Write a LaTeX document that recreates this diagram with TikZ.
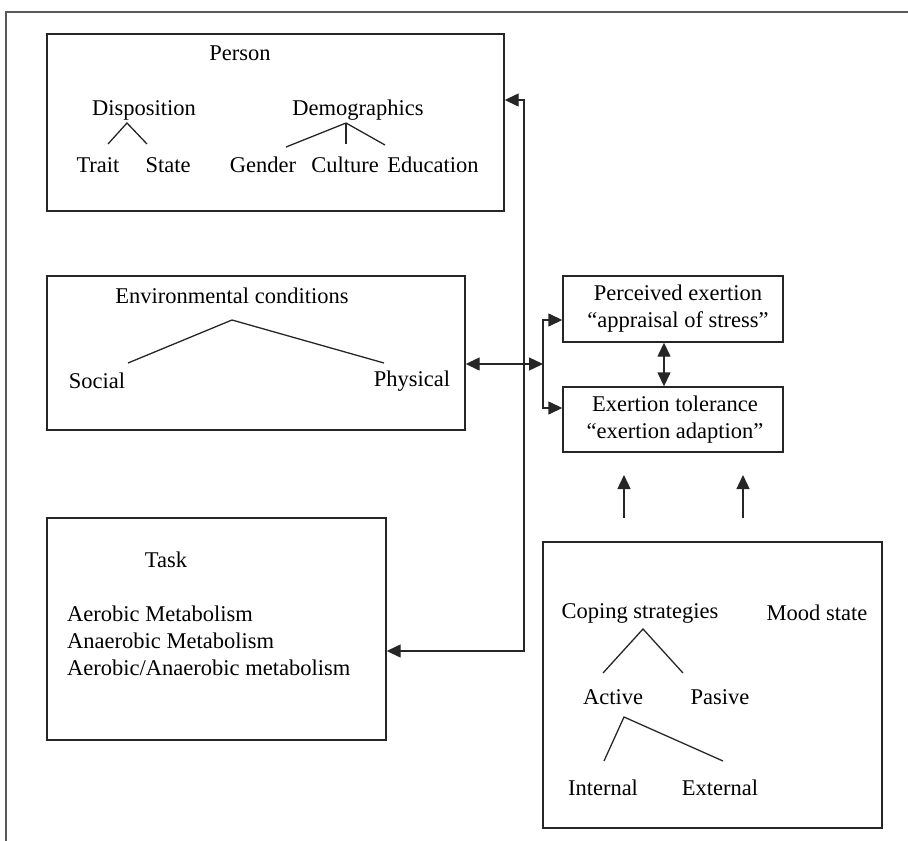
\documentclass[tikz,border=0pt]{standalone}
\usepackage{fontspec}
\setmainfont{Liberation Serif}
\usetikzlibrary{arrows.meta}
\begin{document}
\begin{tikzpicture}[x=1pt,y=-1pt,
  every node/.style={font=\fontsize{22.5}{27}\selectfont, inner sep=0pt},
  panel/.style={draw=black!85, line width=1.4pt},
  frame/.style={draw=black!65, line width=1.4pt},
  branch/.style={draw=black!85, line width=1.3pt},
  tip/.tip={Triangle[length=14pt,width=13pt]},
  link/.style={draw=black!85, line width=1.4pt, -tip},
  dlink/.style={draw=black!85, line width=1.4pt, tip-tip},
]
\useasboundingbox (0,0) rectangle (908,841);

% page frame (top and left edges only)
\draw[frame] (908,12) -- (6,12) -- (6,841);

% ---------- panels ----------
\node[panel, minimum width=457pt, minimum height=177pt] (person) at (275.5,122.5) {};
\node[panel, minimum width=418pt, minimum height=154pt] (env)    at (256,353) {};
\node[panel, minimum width=339pt, minimum height=222pt] (task)   at (216.5,629) {};
\node[panel, minimum width=220pt, minimum height=66pt]  (perc)   at (673,309) {};
\node[panel, minimum width=220pt, minimum height=65pt]  (exer)   at (673,419.5) {};
\node[panel, minimum width=339pt, minimum height=286pt] (coping) at (712.5,685) {};

% ---------- Person ----------
\node (personT) at (240,53) {Person};
\node (disp)  at (144,110) {Disposition};
\node (demo)  at (358,110) {Demographics};
\node (trait) at (98,165)  {Trait};
\node (state) at (168,165) {State};
\node (gender) at (263,165) {Gender};
\node (culture) at (345,165) {Culture};
\node (educ) at (433,165) {Education};
\coordinate (dispA) at (127,123);
\coordinate (demoA) at (346,123);
\draw[branch] (108,144) -- (dispA) -- (147,144);
\draw[branch] (286,147) -- (demoA) -- (385,145);
\draw[branch] (demoA) -- (346,144);

% ---------- Environmental conditions ----------
\node (envT) at (232,296) {Environmental conditions};
\node (social) at (97,381) {Social};
\node (phys) at (412,381) {Physical};
\coordinate (envA) at (232,320);
\draw[branch] (128,363) -- (envA) -- (384,363);

% ---------- Task ----------
\node (taskT) at (166,560) {Task};
\node[align=left, anchor=west] (tasklist) at (67,641)
  {Aerobic Metabolism\\Anaerobic Metabolism\\Aerobic/Anaerobic metabolism};

% ---------- Perceived exertion / tolerance ----------
\node[align=center] (percT) at (678,309) {Perceived exertion\\“appraisal of stress”};
\node[align=center] (exerT) at (675,420) {Exertion tolerance\\“exertion adaption”};

% ---------- Coping / mood ----------
\node (copeT) at (640,613) {Coping strategies};
\node (mood) at (817,613) {Mood state};
\node (active) at (613,697) {Active};
\node (pasive) at (720,697) {Pasive};
\node (internal) at (603,788) {Internal};
\node (external) at (720,788) {External};
\coordinate (copeA) at (643,629);
\coordinate (actA) at (624,717);
\draw[branch] (603,673) -- (copeA) -- (683,673);
\draw[branch] (604,761) -- (actA) -- (723,761);

% ---------- connectors ----------
\coordinate (jtop) at (524,100);
\coordinate (jbot) at (524,651);
\draw[dlink] (person.east |- jtop) -- (jtop) -- (jbot) -- (task.east |- jbot);

\coordinate (fork) at (543,364);
\coordinate (forkup) at (543,320);
\coordinate (forkdn) at (543,408);
\draw[dlink] (env.east |- fork) -- (fork);
\draw[link] (fork) -- (forkup) -- (perc.west |- forkup);
\draw[link] (fork) -- (forkdn) -- (exer.west |- forkdn);

\draw[dlink] ([xshift=-9pt]perc.south) -- ([xshift=-9pt]exer.north);

\coordinate (upAs) at (624,518);
\coordinate (upAe) at (624,475);
\coordinate (upBs) at (743,518);
\coordinate (upBe) at (743,475);
\draw[link] (upAs) -- (upAe);
\draw[link] (upBs) -- (upBe);
\end{tikzpicture}
\end{document}
